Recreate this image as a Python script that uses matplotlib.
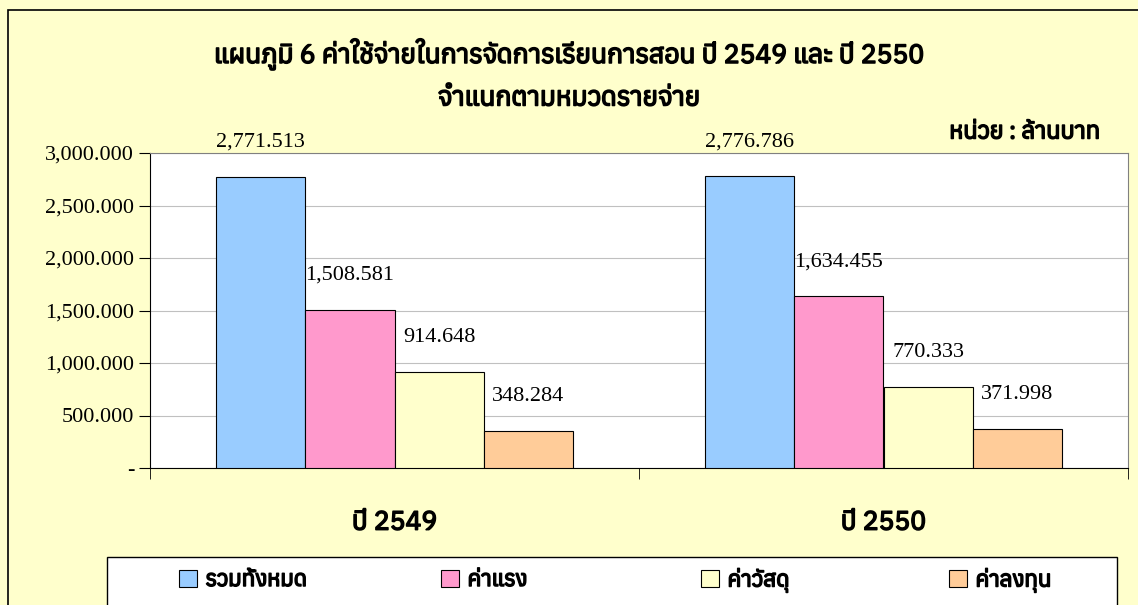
import matplotlib
matplotlib.use('Agg')
import matplotlib.pyplot as plt
import matplotlib.patheffects as pe
import numpy as np
from matplotlib.font_manager import fontManager
from matplotlib.ft2font import FT2Font
from matplotlib.patches import Rectangle

# ข้อมูล (ล้านบาท)
years = ['ปี 2549', 'ปี 2550']
series = ['รวมทั้งหมด', 'ค่าแรง', 'ค่าวัสดุ', 'ค่าลงทุน']
total = [2771.513, 2776.786]
labor = [1508.581, 1634.455]
material = [914.648, 770.333]
invest = [348.284, 371.998]
colors = ['#99CCFF', '#FF99CC', '#FFFFCC', '#FFCC99']
yticks = [0, 500, 1000, 1500, 2000, 2500, 3000]

# หาฟอนต์ที่มีอักษรไทย
thai_fonts = []
for f in fontManager.ttflist:
    try:
        if FT2Font(f.fname).get_char_index(0x0E01):
            thai_fonts.append(f.name)
    except Exception:
        pass
thai_fonts = sorted(set(thai_fonts))
family = thai_fonts[:1] + ['DejaVu Sans']
plt.rcParams['font.family'] = family

bold = [pe.withStroke(linewidth=1.1, foreground='black')]

fig = plt.figure(figsize=(11.38, 6.05), dpi=100, facecolor='#FFFFCC')
fig.patches.append(Rectangle((8/1138, -0.1), 1.2, 1.1 - 10/605, transform=fig.transFigure,
                             fill=False, edgecolor='black', lw=1.2))
# กรอบ legend
fig.patches.append(Rectangle((107/1138, -0.1), 1010/1138, 0.1 + 48/605, transform=fig.transFigure,
                             facecolor='white', edgecolor='black', lw=1.0))
ax = fig.add_axes([150/1138, 1 - 468/605, 978/1138, 315/605])
ax.set_facecolor('white')

data = [total, labor, material, invest]
w = 0.1827
x = np.arange(len(years))
handles = []
for i, vals in enumerate(data):
    pos = x + (i - 1.5) * w
    bars = ax.bar(pos, vals, w, color=colors[i], edgecolor='black', lw=0.8,
                  label=series[i], zorder=3)
    handles.append(bars)
    for b, v in zip(bars, vals):
        ax.annotate(f'{v:,.3f}', (b.get_x() + b.get_width()/2, v), xytext=(0, 18),
                    textcoords='offset points', ha='center', va='bottom',
                    fontsize=16, family='Liberation Serif')

ax.set_xlim(-0.5, 1.5)
ax.set_ylim(0, 3000)
ax.set_yticks(yticks)
ax.set_yticklabels(['-' if t == 0 else f'{t:,.3f}' for t in yticks],
                   family='Liberation Serif', fontsize=16)
ax.yaxis.grid(True, color='#C0C0C0', lw=0.8, zorder=0)
ax.set_xticks(x)
ax.set_xticklabels(years, fontsize=19)
for t in ax.get_xticklabels():
    t.set_path_effects(bold)
ax.tick_params(axis='x', length=0, pad=30)
ax.set_xticks([-0.5, 0.5, 1.5], minor=True)
ax.tick_params(axis='x', which='minor', length=8, direction='out')
ax.tick_params(axis='y', length=8, direction='out')
for s in ['top', 'right']:
    ax.spines[s].set_color('#808080')

fig.text(0.5, 1 - 55/605, 'แผนภูมิ 6 ค่าใช้จ่ายในการจัดการเรียนการสอน ปี 2549 และ ปี 2550',
         ha='center', va='center', fontsize=19, path_effects=bold)
fig.text(0.5, 1 - 98/605, 'จำแนกตามหมวดรายจ่าย', ha='center', va='center',
         fontsize=19, path_effects=bold)
fig.text(1100/1138, 1 - 132/605, 'หน่วย : ล้านบาท', ha='right', va='center',
         fontsize=17, path_effects=bold)

# legend แยกทีละรายการ
leg_x = [170, 432, 692, 940]
for h, lab, lx in zip(handles, series, leg_x):
    leg = fig.legend([h], [lab], loc='center left', bbox_to_anchor=(lx/1138, 1 - 580/605),
                     frameon=False, fontsize=16, handlelength=0.8, handleheight=0.8,
                     handletextpad=0.4, borderaxespad=0)
    for t in leg.get_texts():
        t.set_path_effects(bold)

fig.savefig('out.png', dpi=100, facecolor=fig.get_facecolor())
